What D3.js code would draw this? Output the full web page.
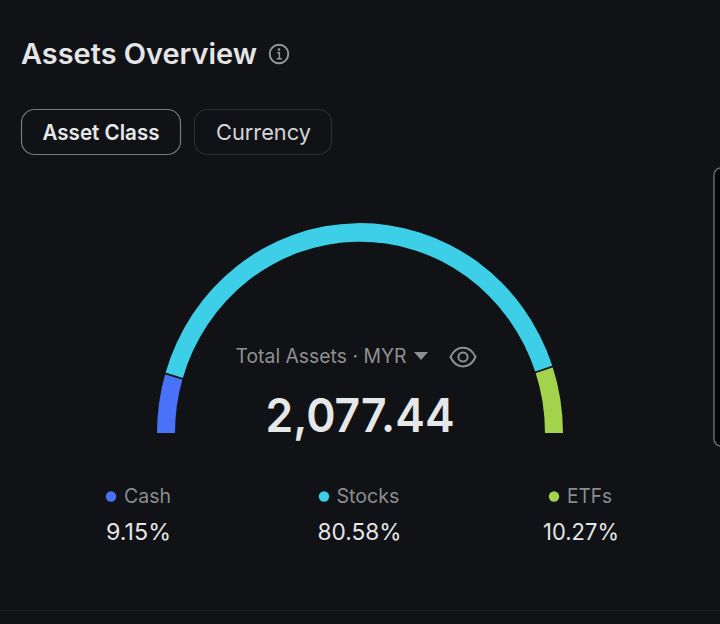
<!DOCTYPE html>
<html><head><meta charset="utf-8">
<script src="https://cdn.jsdelivr.net/npm/d3@7"></script>
<style>html,body{margin:0;padding:0;background:#101215;overflow:hidden}svg{display:block}text{font-family:Inter,"Noto Sans",sans-serif}</style>
</head><body>
<script>
const categories = ["Cash","Stocks","ETFs"];
const shares = [9.15,80.58,10.27];
const colors = ["#4a72f8","#3dcfe8","#a3d24c"];
const legendLabels = ["9.15%","80.58%","10.27%"];
const title = "Assets Overview";
const tabs = ["Asset Class","Currency"];
const totalLabel = "Total Assets · MYR";
const totalValue = "2,077.44";

const svg = d3.select("body").append("svg").attr("width",720).attr("height",624);
svg.append("rect").attr("width",720).attr("height",624).attr("fill","#101215");

function txt(s,x,y,size,fill,weight,anchor,len){
  const t=svg.append("text").attr("x",x).attr("y",y).attr("font-size",size).attr("fill",fill)
    .attr("font-weight",weight).attr("text-anchor",anchor||"start").text(s);
  if(len) t.attr("textLength",len).attr("lengthAdjust","spacingAndGlyphs");
  return t;
}
txt(title,21,64,28,"#e4e5e7",600,"start",236);
// info icon
const info=svg.append("g").attr("transform","translate(279,54)");
info.append("circle").attr("r",9.3).attr("fill","none").attr("stroke","#96989b").attr("stroke-width",1.9);
info.append("circle").attr("cy",-4.4).attr("r",1.3).attr("fill","#96989b");
info.append("path").attr("d","M-1.8,-1.2H0.4V4.4M-2.2,4.8H2.8").attr("fill","none").attr("stroke","#96989b").attr("stroke-width",1.4);

// tabs
svg.append("rect").attr("x",21.5).attr("y",109.5).attr("width",159).attr("height",45).attr("rx",13).attr("fill","none").attr("stroke","#77797c").attr("stroke-width",1.2);
svg.append("rect").attr("x",194.5).attr("y",109.5).attr("width",137).attr("height",45).attr("rx",13).attr("fill","none").attr("stroke","#2b2d30").attr("stroke-width",1.2);
txt(tabs[0],101,140,22,"#e6e7e8",600,"middle",117);
txt(tabs[1],263.5,140,22,"#d4d5d7",400,"middle",95);

// gauge
const angle=d3.scaleLinear().domain([0,100]).range([-Math.PI/2,Math.PI/2]);
const arc=d3.arc().innerRadius(185).outerRadius(203);
let cum=0;
const segs=categories.map((c,i)=>{const s=cum;cum+=shares[i];return {c,i,a0:angle(s),a1:angle(cum)}});
const gauge=svg.append("g").attr("transform","translate(360,433) scale(1,1.034)");
gauge.selectAll("path.seg").data(segs).join("path").attr("class","seg")
  .attr("d",d=>arc({startAngle:d.a0,endAngle:d.a1})).attr("fill",d=>colors[d.i]);
const div=d3.arc().innerRadius(183).outerRadius(205);
gauge.selectAll("path.div").data(segs.slice(1)).join("path").attr("class","div")
  .attr("d",d=>div({startAngle:d.a0-0.0045,endAngle:d.a0+0.0045})).attr("fill","#101215");

// centre
txt(totalLabel,235.5,363,19.5,"#8f9194",400,"start",171);
svg.append("path").attr("d","M414,352H428L421,360Z").attr("fill","#8c8e91");
const eye=svg.append("g").attr("transform","translate(463,357)").attr("fill","none").attr("stroke","#8c8e91").attr("stroke-width",2);
eye.append("path").attr("d","M-12.5,0C-7,-12.5 7,-12.5 12.5,0C7,12.5 -7,12.5 -12.5,0Z").attr("stroke-linejoin","round");
eye.append("circle").attr("r",4.6);
txt(totalValue,360,432,47,"#e6e7e9",600,"middle",189);

// legend
const dotX=[111,324,554], labX=[124,336.5,567], valX=[138.5,359.5,581], valLen=[65,84,76], labLen=[47,63,45];
const leg=svg.append("g");
leg.selectAll("circle").data(categories).join("circle").attr("cx",(d,i)=>dotX[i]).attr("cy",496.5).attr("r",5.2).attr("fill",(d,i)=>colors[i]);
categories.forEach((c,i)=>{
  txt(c,labX[i],503,20,"#8a8c8f",400,"start",labLen[i]);
  txt(legendLabels[i],valX[i],540,23,"#e4e5e7",400,"middle",valLen[i]);
});

// bottom rule and right panel
svg.append("line").attr("x1",0).attr("x2",720).attr("y1",610.5).attr("y2",610.5).attr("stroke","#1b1d20");
svg.append("rect").attr("x",714).attr("y",168).attr("width",30).attr("height",278).attr("rx",7).attr("fill","#050505").attr("stroke","#6e7072").attr("stroke-width",1.4);
</script>
</body></html>
